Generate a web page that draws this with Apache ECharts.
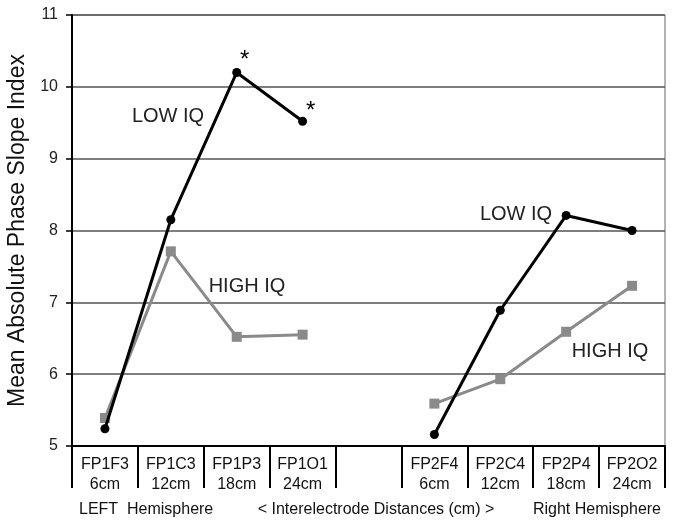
<!DOCTYPE html>
<html>
<head>
<meta charset="utf-8">
<script src="https://cdn.jsdelivr.net/npm/echarts@6/dist/echarts.min.js"></script>
<style>
  html, body { margin: 0; padding: 0; background: #fff; }
  #chart { width: 675px; height: 526px; }
</style>
</head>
<body>
<div id="chart"></div>
<script>
// electrode pairs, empty slot separates the two hemispheres
const categories = ['FP1F3\n6cm', 'FP1C3\n12cm', 'FP1P3\n18cm', 'FP1O1\n24cm', '',
  'FP2F4\n6cm', 'FP2C4\n12cm', 'FP2P4\n18cm', 'FP2O2\n24cm']
const lowIQ = [5.24, 8.15, 10.2, 9.52, null, 5.16, 6.89, 8.21, 8.0]
const highIQ = [5.39, 7.71, 6.52, 6.55, null, 5.59, 5.93, 6.59, 7.23]
const starred = [2, 3] // points marked with *

const font = 'Arial, "Liberation Sans", sans-serif'

const chart = echarts.init(document.getElementById('chart'))

function withStars(values) {
  return values.map((v, i) => {
    if (starred.indexOf(i) < 0) return v
    return {
      value: v,
      label: {
        show: true,
        formatter: '*',
        position: 'inside',
        offset: i === 2 ? [8, -12] : [8, -10],
        fontSize: 24,
        color: '#000',
        fontFamily: font
      }
    }
  })
}

function note(text, x, y) {
  return {
    type: 'text',
    x: x,
    y: y,
    style: {
      text: text,
      fontSize: 20,
      fontFamily: font,
      fill: '#222',
      align: 'center',
      verticalAlign: 'middle'
    }
  }
}

function footer(text, x, align) {
  return {
    type: 'text',
    x: x,
    y: 510,
    style: {
      text: text,
      fontSize: 16,
      fontFamily: font,
      fill: '#111',
      align: align,
      verticalAlign: 'middle'
    }
  }
}

chart.setOption({
  animation: false,
  grid: {
    left: 72,
    right: 10,
    top: 15,
    bottom: 80,
    outerBoundsMode: 'none',
    containLabel: false,
    show: true,
    borderColor: '#666',
    borderWidth: 1
  },
  xAxis: {
    type: 'category',
    data: categories,
    boundaryGap: true,
    axisLine: { lineStyle: { color: '#000', width: 2 } },
    axisTick: {
      show: true,
      interval: 0,
      length: 42,
      lineStyle: { color: '#000', width: 2 }
    },
    axisLabel: {
      interval: 0,
      margin: 9,
      fontSize: 16,
      lineHeight: 20,
      color: '#111',
      fontFamily: font
    },
    splitLine: { show: false }
  },
  yAxis: {
    type: 'value',
    min: 5,
    max: 11,
    interval: 1,
    name: 'Mean Absolute Phase Slope Index',
    nameLocation: 'middle',
    nameGap: 42,
    nameTextStyle: { fontSize: 23, color: '#111', fontFamily: font },
    axisLine: { show: true, lineStyle: { color: '#000', width: 2 } },
    axisTick: { show: true, length: 6, lineStyle: { color: '#000', width: 1.5 } },
    axisLabel: { fontSize: 16, color: '#222', margin: 14, fontFamily: font },
    splitLine: { lineStyle: { color: '#555', width: 1.5 } }
  },
  series: [
    {
      name: 'HIGH IQ',
      type: 'line',
      data: highIQ,
      connectNulls: false,
      symbol: 'rect',
      symbolSize: 10,
      lineStyle: { color: '#8a8a8a', width: 3 },
      itemStyle: { color: '#8a8a8a' },
      z: 2
    },
    {
      name: 'LOW IQ',
      type: 'line',
      data: withStars(lowIQ),
      connectNulls: false,
      symbol: 'circle',
      symbolSize: 9,
      lineStyle: { color: '#000', width: 3 },
      itemStyle: { color: '#000' },
      z: 3
    }
  ],
  graphic: [
    note('LOW IQ', 168, 116),
    note('HIGH IQ', 247, 286),
    note('LOW IQ', 516, 214),
    note('HIGH IQ', 610, 351),
    footer('LEFT  Hemisphere', 79, 'left'),
    footer('< Interelectrode Distances (cm) >', 376, 'center'),
    footer('Right Hemisphere', 661, 'right')
  ]
})
</script>
</body>
</html>
